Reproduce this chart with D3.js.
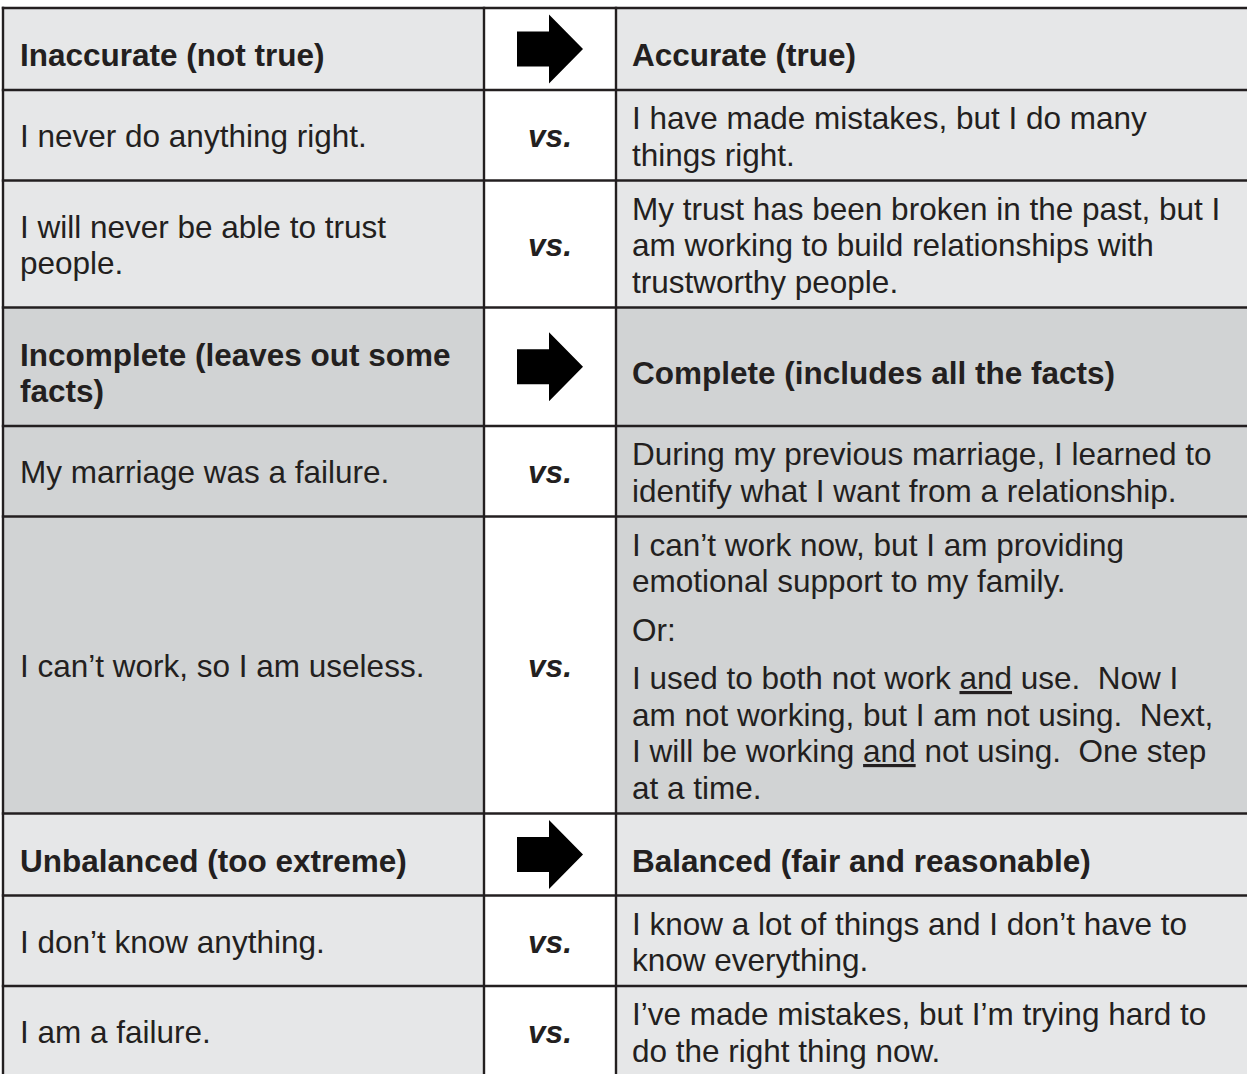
<!DOCTYPE html>
<html>
<head>
<meta charset="utf-8">
<script src="https://cdn.jsdelivr.net/npm/d3@7"></script>
<style>
  html, body { margin: 0; padding: 0; background: #ffffff; }
  svg { display: block; }
  text { font-family: "Liberation Sans", Arial, Helvetica, sans-serif; fill: #231f20; white-space: pre; }
</style>
</head>
<body>
<svg id="chart" width="1247" height="1074"></svg>
<script>
// ---------- content ----------
const headerLeft = [
  ["Inaccurate (not true)"],
  ["Incomplete (leaves out some", "facts)"],
  ["Unbalanced (too extreme)"]
];
const headerRight = [
  ["Accurate (true)"],
  ["Complete (includes all the facts)"],
  ["Balanced (fair and reasonable)"]
];
// each cell: list of paragraphs, each paragraph: list of lines ("_word_" = underlined)
const unhelpfulThoughts = [
  [ [["I never do anything right."]],
    [["I will never be able to trust", "people."]] ],
  [ [["My marriage was a failure."]],
    [["I can’t work, so I am useless."]] ],
  [ [["I don’t know anything."]],
    [["I am a failure."]] ]
];
const helpfulThoughts = [
  [ [["I have made mistakes, but I do many", "things right."]],
    [["My trust has been broken in the past, but I", "am working to build relationships with", "trustworthy people."]] ],
  [ [["During my previous marriage, I learned to", "identify what I want from a relationship."]],
    [["I can’t work now, but I am providing", "emotional support to my family."],
     ["Or:"],
     ["I used to both not work _and_ use.  Now I", "am not working, but I am not using.  Next,", "I will be working _and_ not using.  One step", "at a time."]] ],
  [ [["I know a lot of things and I don’t have to", "know everything."]],
    [["I’ve made mistakes, but I’m trying hard to", "do the right thing now."]] ]
];
const versusLabel = "vs.";
const sectionShades = ["#e6e7e8", "#d1d3d4", "#e6e7e8"];

// ---------- layout constants ----------
const X0 = 3, X1 = 484, X2 = 616, X3 = 1260;
const TOP = 8;
const LINE = 36.5, PGAP = 12;
const PAD_BODY = 17.5, PAD_HEAD = 45.5;
const FS = 31.5;
const BORDER = "#231f20";

// build rows
const rows = [];
headerLeft.forEach((hl, s) => {
  rows.push({ kind: "header", section: s, left: [hl], right: [headerRight[s]] });
  unhelpfulThoughts[s].forEach((cell, i) => {
    rows.push({ kind: "pair", section: s, left: cell, right: helpfulThoughts[s][i] });
  });
});

function cellSpan(paras) {
  const n = d3.sum(paras, p => p.length);
  return { n, span: (n - 1) * LINE + (paras.length - 1) * PGAP, lines: n * LINE + (paras.length - 1) * PGAP };
}

let y = TOP;
rows.forEach(r => {
  const a = cellSpan(r.left), b = cellSpan(r.right);
  const content = Math.max(a.lines, b.lines);
  r.y0 = y;
  r.h = content + (r.kind === "header" ? PAD_HEAD : PAD_BODY);
  r.y1 = y + r.h;
  r.cy = y + r.h / 2;
  y = r.y1;
});

const svg = d3.select("#chart");

// backgrounds
const g = svg.append("g");
rows.forEach(r => {
  g.append("rect").attr("x", X0).attr("y", r.y0).attr("width", X1 - X0).attr("height", r.h)
    .attr("fill", sectionShades[r.section]);
  g.append("rect").attr("x", X1).attr("y", r.y0).attr("width", X2 - X1).attr("height", r.h)
    .attr("fill", "#ffffff");
  g.append("rect").attr("x", X2).attr("y", r.y0).attr("width", X3 - X2).attr("height", r.h)
    .attr("fill", sectionShades[r.section]);
});

// text drawing
function drawCell(paras, x, r, bold) {
  const info = cellSpan(paras);
  const k = bold ? 17 : 12;
  let base = r.cy + k - info.span / 2;
  const t = svg.append("text")
    .attr("font-size", FS)
    .attr("font-weight", bold ? "bold" : "normal");
  paras.forEach(p => {
    p.forEach(line => {
      const parts = line.split("_");
      let first = true;
      parts.forEach((part, j) => {
        if (part === "") return;
        const ts = t.append("tspan").text(part);
        if (first) { ts.attr("x", x).attr("y", base); first = false; }
        if (j % 2 === 1) ts.style("text-decoration", "underline");
      });
      base += LINE;
    });
    base += PGAP;
  });
}

rows.forEach(r => {
  const bold = r.kind === "header";
  drawCell(r.left, 20, r, bold);
  drawCell(r.right, 632, r, bold);
  const cx = (X1 + X2) / 2;
  if (r.kind === "header") {
    const cy = r.cy;
    svg.append("path")
      .attr("d", d3.line()([
        [cx - 33, cy - 17.5], [cx - 1, cy - 17.5], [cx - 1, cy - 34.5], [cx + 33, cy],
        [cx - 1, cy + 34.5], [cx - 1, cy + 17.5], [cx - 33, cy + 17.5]
      ]) + "Z")
      .attr("fill", "#000000");
  } else {
    svg.append("text")
      .attr("x", cx).attr("y", r.cy + 12)
      .attr("text-anchor", "middle")
      .attr("font-size", FS)
      .attr("font-weight", "bold")
      .attr("font-style", "italic")
      .text(versusLabel);
  }
});

// borders
const lines = svg.append("g").attr("stroke", BORDER).attr("stroke-width", 2.4).attr("fill", "none");
const bottom = rows[rows.length - 1].y1;
[X0, X1, X2].forEach(x => {
  lines.append("line").attr("x1", x).attr("x2", x).attr("y1", TOP - 1.2).attr("y2", bottom);
});
[TOP].concat(rows.map(r => r.y1)).forEach(yy => {
  lines.append("line").attr("x1", X0 - 1.2).attr("x2", X3).attr("y1", yy).attr("y2", yy);
});
</script>
</body>
</html>
